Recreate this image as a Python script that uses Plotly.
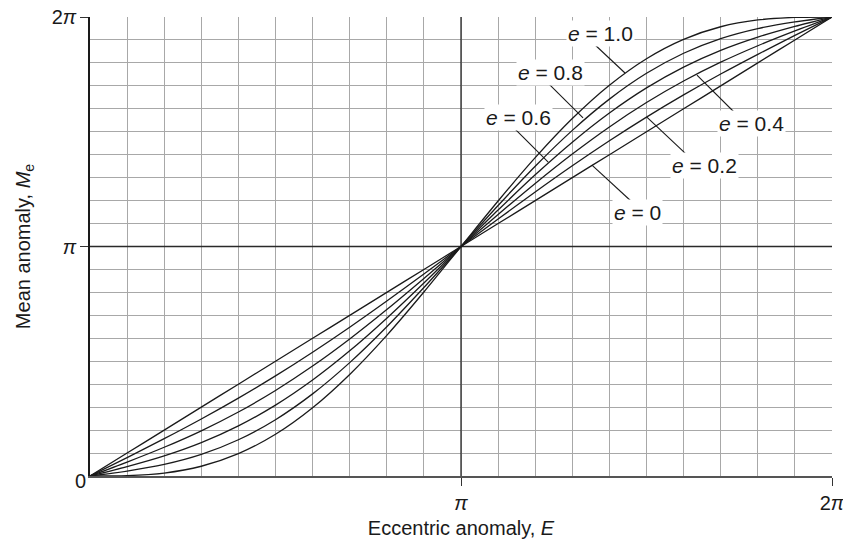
import plotly.graph_objects as go

# Eccentric anomaly E, in units of pi
E_over_pi = [0.0, 0.1, 0.2, 0.3, 0.4, 0.5, 0.6, 0.7, 0.8, 0.9, 1.0,
             1.1, 1.2, 1.3, 1.4, 1.5, 1.6, 1.7, 1.8, 1.9, 2.0]

# Mean anomaly M_e, in units of pi, for each eccentricity
M_e0 = [0.0, 0.1, 0.2, 0.3, 0.4, 0.5, 0.6, 0.7, 0.8, 0.9, 1.0,
        1.1, 1.2, 1.3, 1.4, 1.5, 1.6, 1.7, 1.8, 1.9, 2.0]
M_e02 = [0.0, 0.0803, 0.1626, 0.2485, 0.3395, 0.4363, 0.5395, 0.6485, 0.7626, 0.8803, 1.0,
         1.1197, 1.2374, 1.3515, 1.4605, 1.5637, 1.6605, 1.7515, 1.8374, 1.9197, 2.0]
M_e04 = [0.0, 0.0607, 0.1252, 0.1970, 0.2789, 0.3727, 0.4789, 0.5970, 0.7252, 0.8607, 1.0,
         1.1393, 1.2748, 1.4030, 1.5211, 1.6273, 1.7211, 1.8030, 1.8748, 1.9393, 2.0]
M_e06 = [0.0, 0.0410, 0.0877, 0.1455, 0.2184, 0.3090, 0.4184, 0.5455, 0.6877, 0.8410, 1.0,
         1.1590, 1.3123, 1.4545, 1.5816, 1.6910, 1.7816, 1.8545, 1.9123, 1.9590, 2.0]
M_e08 = [0.0, 0.0213, 0.0503, 0.0940, 0.1578, 0.2454, 0.3578, 0.4940, 0.6503, 0.8213, 1.0,
         1.1787, 1.3497, 1.5060, 1.6422, 1.7546, 1.8422, 1.9060, 1.9497, 1.9787, 2.0]
M_e10 = [0.0, 0.0016, 0.0129, 0.0425, 0.0973, 0.1817, 0.2973, 0.4425, 0.6129, 0.8016, 1.0,
         1.1984, 1.3871, 1.5575, 1.7027, 1.8183, 1.9027, 1.9575, 1.9871, 1.9984, 2.0]

series_names = ["e = 0", "e = 0.2", "e = 0.4", "e = 0.6", "e = 0.8", "e = 1.0"]
series_values = [M_e0, M_e02, M_e04, M_e06, M_e08, M_e10]

# Curve labels: text position, leader start (near curve), leader end (near text)
label_texts = ["<i>e</i> = 0", "<i>e</i> = 0.2", "<i>e</i> = 0.4",
               "<i>e</i> = 0.6", "<i>e</i> = 0.8", "<i>e</i> = 1.0"]
label_x = [1.477, 1.655, 1.784, 1.156, 1.240, 1.375]
label_y = [1.150, 1.351, 1.538, 1.564, 1.760, 1.930]
leader_x0 = [1.461, 1.609, 1.744, 1.235, 1.329, 1.442]
leader_y0 = [1.194, 1.399, 1.573, 1.368, 1.560, 1.756]
leader_x1 = [1.353, 1.501, 1.636, 1.127, 1.221, 1.353]
leader_y1 = [1.355, 1.564, 1.747, 1.542, 1.734, 1.891]

x_tickvals = [1, 2]
x_ticktext = ["<i>π</i>", "2<i>π</i>"]
y_tickvals = [1, 2]
y_ticktext = ["<i>π</i>", "2<i>π</i>"]

FONT = "Liberation Sans, Arial, sans-serif"

fig = go.Figure()
for name, vals in zip(series_names, series_values):
    fig.add_trace(go.Scatter(
        x=E_over_pi, y=vals, mode="lines", name=name,
        line=dict(color="#1a1a1a", width=1.3, shape="spline", smoothing=0.8),
        showlegend=False, hoverinfo="skip"))

shapes = [
    dict(type="line", xref="x", yref="y", x0=1, x1=1, y0=0, y1=2,
         line=dict(color="#2a2a2a", width=1.3), layer="between"),
    dict(type="line", xref="x", yref="y", x0=0, x1=2, y0=1, y1=1,
         line=dict(color="#2a2a2a", width=1.3), layer="between"),
]
for a, b, c, d in zip(leader_x0, leader_y0, leader_x1, leader_y1):
    shapes.append(dict(type="line", xref="x", yref="y", x0=a, y0=b, x1=c, y1=d,
                       line=dict(color="#1a1a1a", width=1.1), layer="above"))

annotations = []
for t, x, y in zip(label_texts, label_x, label_y):
    annotations.append(dict(x=x, y=y, xref="x", yref="y", text=t, showarrow=False,
                            bgcolor="white", borderpad=1,
                            font=dict(family=FONT, size=21, color="#1a1a1a")))
annotations.append(dict(x=0, y=0, xref="x", yref="y", text="0", showarrow=False,
                        xanchor="right", yanchor="middle", xshift=-2, yshift=-5,
                        font=dict(family=FONT, size=20, color="#1a1a1a")))

grid_minor = dict(dtick=0.1, tick0=0, showgrid=True, gridcolor="#a8a8a8",
                  gridwidth=1, ticks="")

fig.update_layout(
    width=843, height=543,
    margin=dict(l=90, r=11, t=17, b=67),
    paper_bgcolor="white", plot_bgcolor="white",
    font=dict(family=FONT, size=20, color="#1a1a1a"),
    shapes=shapes, annotations=annotations,
    xaxis=dict(range=[0, 2], tickvals=x_tickvals, ticktext=x_ticktext,
               automargin=False, ticklabeloverflow="allow",
               showgrid=False, minor=grid_minor, zeroline=False,
               showline=True, linecolor="#555555", linewidth=1.5,
               ticks="outside", ticklen=8, tickcolor="#333333", tickwidth=1.2,
               tickfont=dict(size=20),
               title=dict(text="Eccentric anomaly, <i>E</i>", standoff=8,
                          font=dict(size=20))),
    yaxis=dict(range=[0, 2], tickvals=y_tickvals, ticktext=y_ticktext,
               automargin=False, ticklabeloverflow="allow",
               showgrid=False, minor=grid_minor, zeroline=False,
               showline=True, linecolor="#1a1a1a", linewidth=1.5,
               ticks="outside", ticklen=8, tickcolor="#333333", tickwidth=1.2,
               tickfont=dict(size=20),
               title=dict(text="Mean anomaly, <i>M</i><sub>e</sub>", standoff=16,
                          font=dict(size=20))),
)

fig.write_html("out.html",
               config={"displayModeBar": False},
               post_script="document.body.style.margin='0';document.body.style.overflow='hidden';")
